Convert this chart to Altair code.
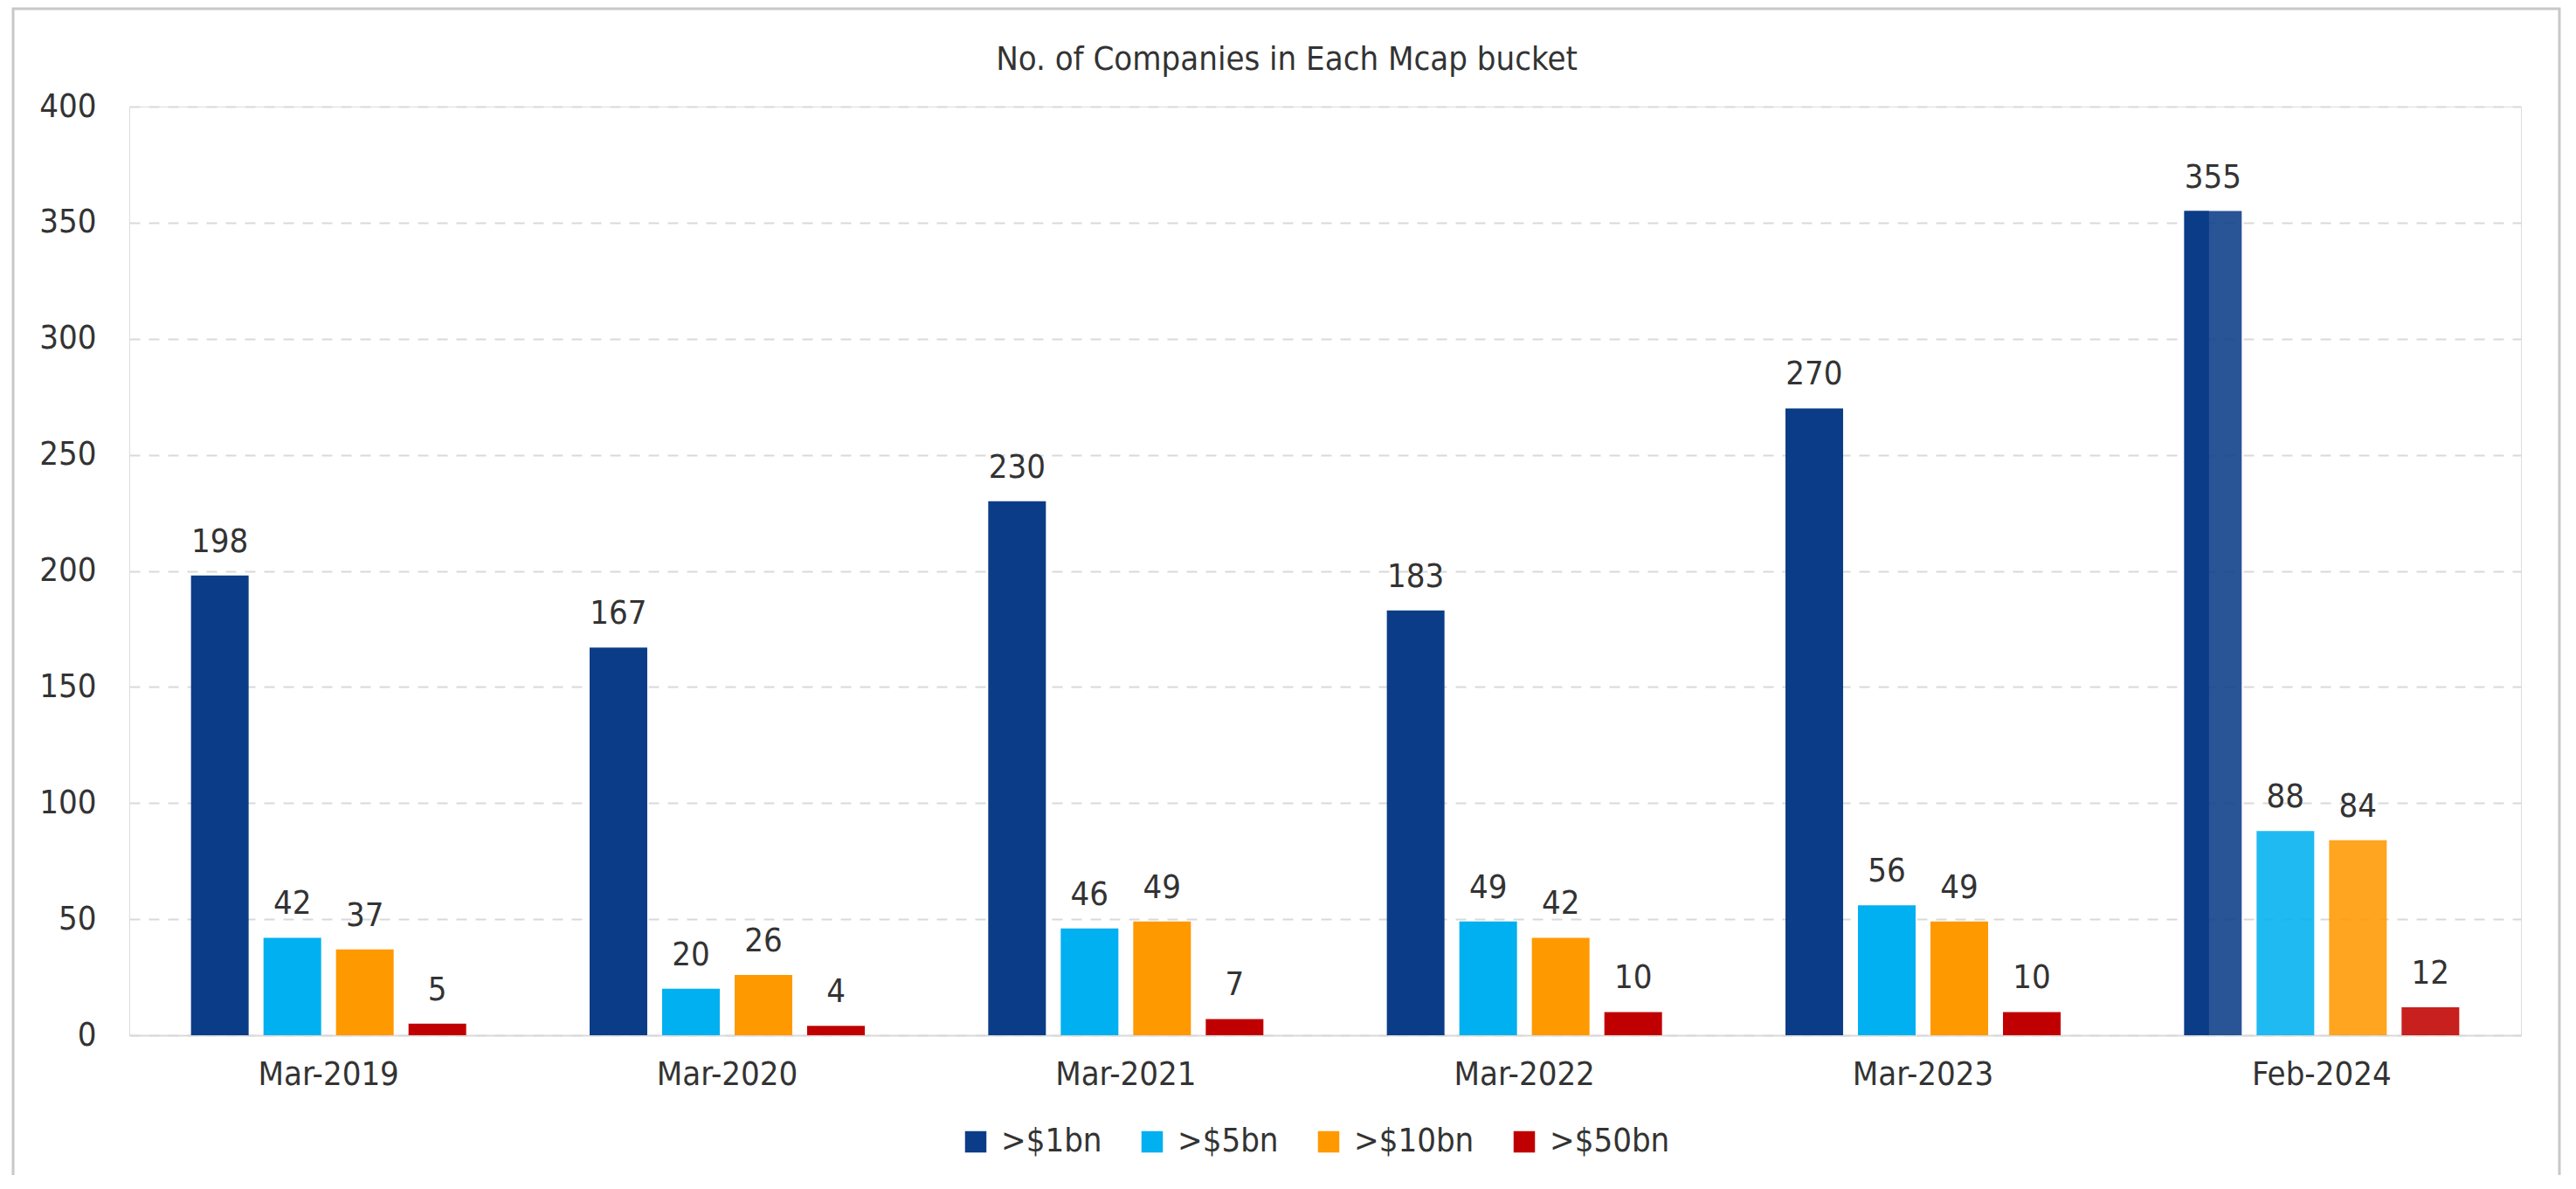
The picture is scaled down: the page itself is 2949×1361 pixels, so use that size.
import altair as alt
import pandas as pd

periods = ["Mar-2019", "Mar-2020", "Mar-2021", "Mar-2022", "Mar-2023", "Feb-2024"]
buckets = [">$1bn", ">$5bn", ">$10bn", ">$50bn"]
over_1bn = [198, 167, 230, 183, 270, 355]
over_5bn = [42, 20, 46, 49, 56, 88]
over_10bn = [37, 26, 49, 42, 49, 84]
over_50bn = [5, 4, 7, 10, 10, 12]
colors = ["#0B3C88", "#00B0F0", "#FF9900", "#C00000"]
title_text = "No. of Companies in Each Mcap bucket"

rows = []
for series, name in zip([over_1bn, over_5bn, over_10bn, over_50bn], buckets):
    for p, v in zip(periods, series):
        rows.append({"Period": p, "Bucket": name, "Count": v})
df = pd.DataFrame(rows)

FONT = "DejaVu Sans Condensed, DejaVu Sans, sans-serif"
TXT = "#333333"
FS = 38

x_enc = alt.X("Period:N", sort=periods,
              scale=alt.Scale(paddingInner=0.2724, paddingOuter=0.1362),
              axis=alt.Axis(title=None, labelAngle=0, ticks=False, labelPadding=26,
                            labelFontSize=FS, labelColor=TXT, labelFont=FONT,
                            domainColor="#D9D9D9", domainWidth=2, grid=False))
y_enc = alt.Y("Count:Q", scale=alt.Scale(domain=[0, 400], nice=False),
              axis=alt.Axis(title=None, values=list(range(0, 401, 50)), ticks=False,
                            domain=False, labelPadding=38, labelFontSize=FS,
                            labelColor=TXT, labelFont=FONT, grid=True,
                            gridColor="#D9D9D9", gridWidth=2, gridDash=[12, 10]))

base = alt.Chart(df).encode(
    x=x_enc,
    xOffset=alt.XOffset("Bucket:N", sort=buckets,
                        scale=alt.Scale(paddingInner=0.205, paddingOuter=0.1025)),
    y=y_enc,
)

color_enc = alt.Color("Bucket:N", sort=buckets,
                      scale=alt.Scale(domain=buckets, range=colors),
                      legend=alt.Legend(title=None, orient="none", direction="horizontal",
                                        legendX=950, legendY=1166,
                                        symbolType="square", symbolSize=600,
                                        symbolStrokeWidth=0, labelFontSize=FS,
                                        labelFont=FONT, labelColor=TXT,
                                        labelOffset=10, columnPadding=38))

bars = base.mark_bar().encode(
    color=color_enc,
    opacity=alt.condition(alt.datum.Period == "Feb-2024", alt.value(0.88), alt.value(1.0)),
)

# darker left strip seen on the highlighted Feb-2024 >$1bn bar
strip = alt.Chart(df).mark_bar(width=28, xOffset=-143).encode(
    x=x_enc, y=y_enc, color=color_enc
).transform_filter(
    (alt.datum.Period == "Feb-2024") & (alt.datum.Bucket == ">$1bn")
)

labels = base.mark_text(baseline="alphabetic", dy=-27, fontSize=FS, font=FONT,
                        color=TXT).encode(text=alt.Text("Count:Q"))

frame = alt.Chart(pd.DataFrame({"f": [0]})).mark_rect(
    fill=None, stroke="#C8C8C8", strokeWidth=3
).encode(x=alt.value(-133), x2=alt.value(2782), y=alt.value(-112), y2=alt.value(1260))

title = alt.Chart(pd.DataFrame({"t": [title_text]})).mark_text(
    fontSize=FS, font=FONT, color=TXT, align="center", baseline="alphabetic"
).encode(text="t:N", x=alt.value(1325), y=alt.value(-42))

chart = alt.layer(frame, bars, strip, labels, title).properties(
    width=2738, height=1063,
    padding={"left": 140, "top": 114, "right": 55, "bottom": 160},
    autosize=alt.AutoSizeParams(type="none"),
).configure_view(stroke=None).configure(background="white")

chart.save("out.html", embed_options={"renderer": "svg", "actions": False})
